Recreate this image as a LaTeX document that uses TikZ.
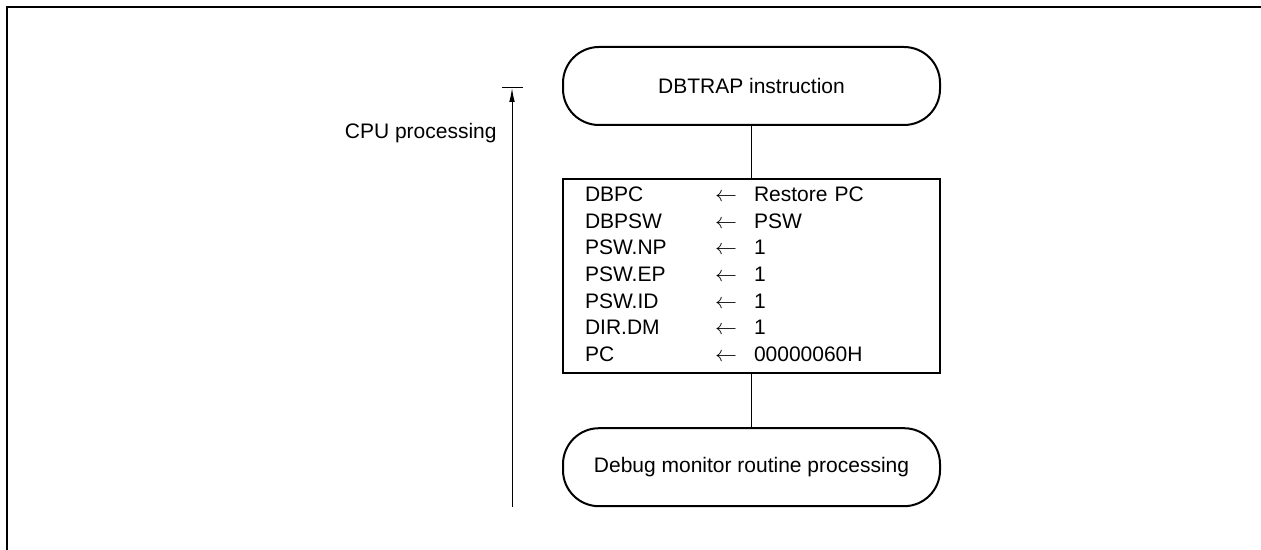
\documentclass[tikz,border=0pt]{standalone}
\usepackage{fontspec}
\setmainfont{Liberation Sans}
\usepackage{tikz}
\usetikzlibrary{arrows.meta, positioning}

\begin{document}
\begin{tikzpicture}[
    x=0.5pt, y=-0.5pt,
    node distance=26pt,
    every node/.style={font=\fontsize{10.5}{13.35}\selectfont},
    terminal/.style={rectangle, draw=black, line width=1pt, rounded corners=18pt, minimum width=188.5pt, minimum height=39pt, inner sep=0pt, align=center},
    regbox/.style={rectangle, draw=black, line width=1.1pt, minimum width=188.5pt, minimum height=97pt, inner xsep=11pt, inner ysep=1pt, text width=166.5pt, align=left},
    link/.style={line width=0.5pt},
    flow/.style={-{Latex[length=7pt, width=2.8pt]}, line width=0.5pt}
]
    \useasboundingbox (0,0) rectangle (1261,550);

    % Frame
    \draw[line width=1pt] (7,550) -- (7,7) -- (1261,7);

    % Nodes
    \node[terminal] (dbtrap) at (751.5,86) {DBTRAP instruction};
    \node[regbox, below=26pt of dbtrap] (regs) {%
        \begin{tabular}{@{}p{65pt}@{}p{19.5pt}@{}l@{}}
        DBPC & $\leftarrow$ & Restore PC\\
        DBPSW & $\leftarrow$ & PSW\\
        PSW.NP & $\leftarrow$ & 1\\
        PSW.EP & $\leftarrow$ & 1\\
        PSW.ID & $\leftarrow$ & 1\\
        DIR.DM & $\leftarrow$ & 1\\
        PC & $\leftarrow$ & 00000060H
        \end{tabular}};
    \node[terminal, below=26.5pt of regs] (debug) {Debug monitor routine processing};

    \coordinate (cpuBot) at (512,507);
    \coordinate (cpuTop) at (512,88);
    \coordinate (barL) at (502,88);
    \coordinate (barR) at (523,88);
    \node[anchor=east, inner sep=0pt] (cpu) at (497,133) {CPU processing};

    % Arrows
    \draw[link] (dbtrap) -- (regs);
    \draw[link] (regs) -- (debug);
    \draw[flow] (cpuBot) -- (cpuTop);
    \draw[link] (barL) -- (barR);
\end{tikzpicture}
\end{document}
